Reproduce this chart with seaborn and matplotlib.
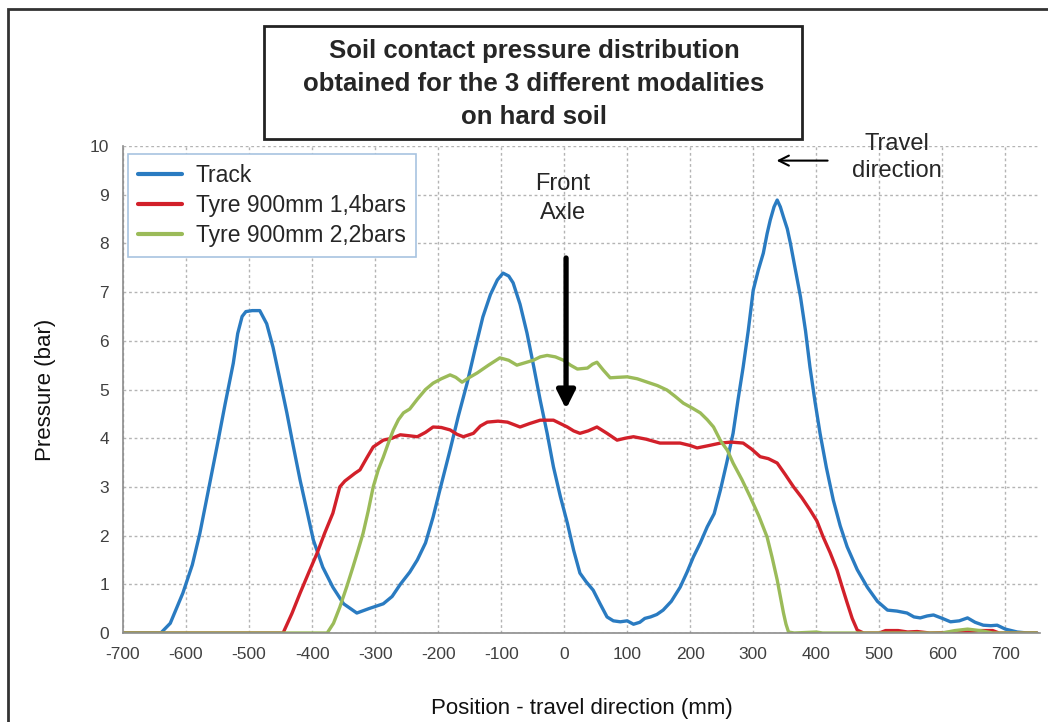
import numpy as np
import pandas as pd
import matplotlib
matplotlib.use("Agg")
import matplotlib.pyplot as plt
from matplotlib.patches import Rectangle
import seaborn as sns

# --- data ---
track_x = [-700, -640, -625, -605, -590, -578, -565, -551, -538, -525, -518, -511, -505, -495,
           -483, -472, -462, -451, -440, -430, -419, -408, -398, -383, -367, -350, -329, -310,
           -287, -273, -260, -245, -233, -220, -208, -195, -181, -168, -154, -141, -129, -117,
           -106, -97, -88, -81, -70, -59, -48, -38, -27, -17, -6, 5, 15, 25, 35, 46, 57, 68, 78,
           89, 100, 110, 120, 128, 137, 147, 157, 170, 184, 195, 205, 216, 227, 238, 248, 258,
           268, 276, 284, 292, 300, 308, 316, 322, 327, 333, 338, 343, 348, 354, 359, 367, 375,
           383, 390, 398, 406, 416, 427, 438, 449, 465, 481, 497, 513, 528, 544, 555, 565, 576,
           586, 600, 613, 627, 640, 652, 665, 677, 687, 700, 719, 735, 750]
track_y = [0, 0, 0.2, 0.82, 1.4, 2.05, 2.9, 3.82, 4.7, 5.54, 6.15, 6.5, 6.6, 6.62,
           6.62, 6.35, 5.87, 5.2, 4.52, 3.85, 3.14, 2.5, 1.91, 1.35, 0.94, 0.6, 0.41, 0.5,
           0.6, 0.75, 1.0, 1.25, 1.5, 1.85, 2.38, 3.05, 3.76, 4.45, 5.13, 5.85, 6.49, 6.95,
           7.25, 7.39, 7.33, 7.19, 6.75, 6.16, 5.45, 4.78, 4.1, 3.41, 2.8, 2.26, 1.7, 1.23, 1.05,
           0.88, 0.6, 0.33, 0.25, 0.23, 0.25, 0.18, 0.22, 0.3, 0.33, 0.38, 0.47, 0.65, 0.94,
           1.25, 1.56, 1.85, 2.18, 2.45, 2.94, 3.5, 4.1, 4.8, 5.46, 6.2, 7.04, 7.45, 7.8, 8.2,
           8.48, 8.75, 8.89, 8.75, 8.54, 8.3, 8.0, 7.45, 6.9, 6.2, 5.46, 4.75, 4.1, 3.4, 2.73,
           2.2, 1.77, 1.3, 0.94, 0.65, 0.47, 0.45, 0.41, 0.33, 0.31, 0.35, 0.37, 0.3, 0.23,
           0.25, 0.31, 0.22, 0.16, 0.15, 0.16, 0.08, 0.02, 0, 0]

tyre14_x = [-700, -446, -432, -419, -405, -392, -380, -367, -356, -348, -340, -332, -324, -313,
            -303, -287, -273, -260, -246, -233, -220, -208, -195, -181, -170, -160, -144, -133,
            -122, -105, -90, -80, -70, -55, -38, -17, 5, 15, 25, 38, 52, 68, 84, 97, 110, 130,
            152, 184, 200, 211, 230, 248, 265, 284, 297, 311, 324, 338, 351, 364, 377, 390, 401,
            411, 422, 433, 441, 449, 457, 465, 475, 500, 510, 530, 545, 560, 580, 640, 660, 680,
            690, 750]
tyre14_y = [0, 0, 0.4, 0.82, 1.25, 1.64, 2.05, 2.46, 3.0, 3.12, 3.2, 3.28, 3.35, 3.6,
            3.82, 3.96, 4.0, 4.07, 4.05, 4.03, 4.12, 4.23, 4.22, 4.17, 4.08, 4.03, 4.1, 4.25,
            4.33, 4.35, 4.33, 4.28, 4.23, 4.3, 4.37, 4.37, 4.23, 4.15, 4.1, 4.15, 4.23, 4.1, 3.96,
            4.0, 4.03, 3.98, 3.9, 3.9, 3.85, 3.8, 3.85, 3.9, 3.92, 3.9, 3.78, 3.62, 3.58, 3.49,
            3.25, 3.0, 2.78, 2.53, 2.3, 1.97, 1.65, 1.29, 0.95, 0.62, 0.3, 0.06, 0, 0, 0.05,
            0.05, 0.02, 0.03, 0, 0.02, 0.05, 0.05, 0, 0]

tyre22_x = [-700, -376, -366, -356, -345, -335, -327, -319, -311, -303, -295, -287, -279, -271,
            -263, -255, -245, -233, -220, -208, -195, -181, -172, -162, -150, -138, -120, -102,
            -88, -75, -62, -49, -38, -27, -14, -1, 10, 21, 37, 45, 52, 62, 73, 85, 100, 116, 132,
            148, 163, 176, 189, 203, 216, 227, 237, 248, 259, 268, 282, 295, 309, 322, 330, 338,
            343, 348, 352, 356, 365, 400, 410, 600, 620, 640, 660, 680, 750]
tyre22_y = [0, 0, 0.2, 0.53, 0.95, 1.36, 1.7, 2.05, 2.5, 3.0, 3.35, 3.61, 3.9, 4.17,
            4.38, 4.52, 4.6, 4.8, 5.0, 5.13, 5.22, 5.3, 5.25, 5.15, 5.25, 5.34, 5.5, 5.65,
            5.6, 5.5, 5.55, 5.6, 5.67, 5.7, 5.67, 5.6, 5.5, 5.42, 5.44, 5.52, 5.56, 5.4, 5.24,
            5.25, 5.26, 5.22, 5.15, 5.08, 4.99, 4.86, 4.72, 4.62, 4.52, 4.38, 4.23, 3.95, 3.75,
            3.49, 3.15, 2.8, 2.4, 1.97, 1.55, 1.09, 0.75, 0.41, 0.18, 0.02, 0, 0.02, 0, 0, 0.05,
            0.08, 0.05, 0, 0]

labels = ["Track", "Tyre 900mm 1,4bars", "Tyre 900mm 2,2bars"]
colors = ["#2a7bc1", "#d2202a", "#9bbb59"]
x_ticks = list(range(-700, 701, 100))
y_ticks = list(range(0, 11))

sns.set_theme(style="white")
plt.rcParams["font.family"] = ["Liberation Sans", "DejaVu Sans"]
plt.rcParams["axes.unicode_minus"] = False

fig = plt.figure(figsize=(10.48, 7.22), dpi=100)
ax = fig.add_axes([123 / 1048, 1 - 633 / 722, (1040 - 123) / 1048, (633 - 146) / 722])

series = [(track_x, track_y), (tyre14_x, tyre14_y), (tyre22_x, tyre22_y)]
for (xs, ys), lab, col in zip(series, labels, colors):
    df = pd.DataFrame({"x": xs, "y": ys})
    sns.lineplot(data=df, x="x", y="y", ax=ax, color=col, lw=2.4, label=lab,
                 estimator=None, sort=False)

ax.set_xlim(-700, 755)
ax.set_ylim(0, 10)
ax.set_xticks(x_ticks)
ax.set_yticks(y_ticks)
ax.tick_params(axis="both", labelsize=12.5, colors="#404040", direction="out",
               length=4, width=1, pad=6)
ax.tick_params(axis="both", color="#909090")
ax.grid(True, color="#b4b4b4", linestyle=(0, (2, 2)), lw=1)
for s in ["top", "right"]:
    ax.spines[s].set_visible(False)
for s in ["left", "bottom"]:
    ax.spines[s].set_color("#8c8c8c")
    ax.spines[s].set_linewidth(1.2)

ax.set_xlabel("Position - travel direction (mm)", fontsize=16, color="#111111", labelpad=26)
ax.set_ylabel("Pressure (bar)", fontsize=16, color="#111111", labelpad=24)

leg = ax.legend(loc="upper left", bbox_to_anchor=(128 / 1048, 1 - 154 / 722),
                bbox_transform=fig.transFigure, borderaxespad=0, fontsize=16.5,
                handlelength=1.9, handletextpad=0.6, labelspacing=0.3,
                frameon=True, fancybox=False, borderpad=0.45)
leg.get_frame().set_edgecolor("#a8c4e0")
leg.get_frame().set_linewidth(1.2)
leg.get_frame().set_alpha(1)
for h in leg.get_lines():
    h.set_linewidth(3)

# title box
fig.add_artist(Rectangle((264 / 1048, 1 - 139 / 722), (802 - 264) / 1048, (139 - 26) / 722,
                         transform=fig.transFigure, fill=False, ec="#222222", lw=2))
fig.text(534 / 1048, 1 - 84 / 722,
         "Soil contact pressure distribution\nobtained for the 3 different modalities\non hard soil",
         ha="center", va="center", fontsize=18.5, fontweight="bold", linespacing=1.45)

# annotations
ax.text(-2, 8.92, "Front\nAxle", ha="center", va="center", fontsize=17, linespacing=1.45)
ax.annotate("", xy=(3, 4.6), xytext=(3, 7.7),
            arrowprops=dict(arrowstyle="-|>,head_width=0.45,head_length=0.9", color="black",
                            lw=3.8, shrinkA=0, shrinkB=0))
ax.text(528, 9.77, "Travel\ndirection", ha="center", va="center", fontsize=17,
        linespacing=1.3, clip_on=False)
ax.annotate("", xy=(337, 9.7), xytext=(418, 9.7),
            arrowprops=dict(arrowstyle="->,head_width=0.3,head_length=0.6", color="black",
                            lw=1.5, shrinkA=0, shrinkB=0))

# outer frame (top and left edges visible)
fig.add_artist(Rectangle((8 / 1048, -0.1), 1.2, 1.1 - 9 / 722,
                         transform=fig.transFigure, fill=False, ec="#333333", lw=2))

fig.savefig("out.png", dpi=100)
